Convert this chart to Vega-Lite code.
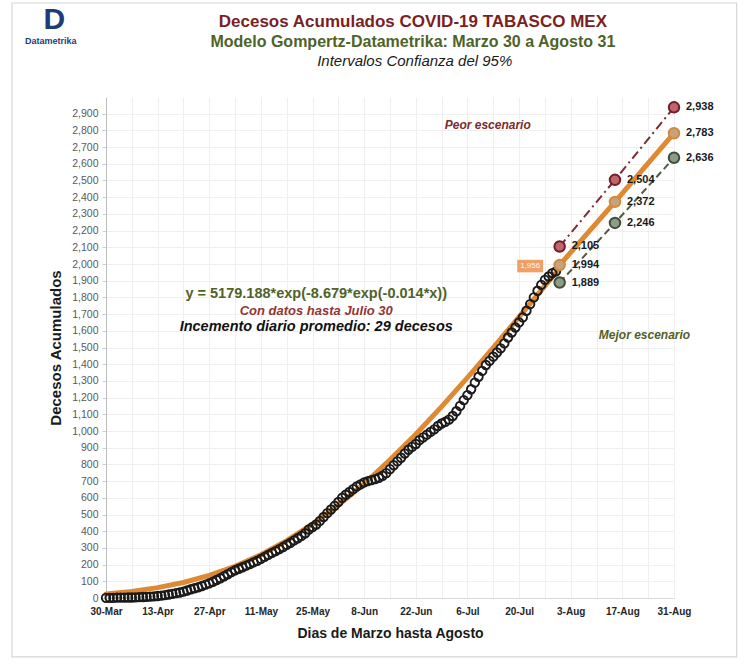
{
  "$schema": "https://vega.github.io/schema/vega-lite/v6.json",
  "width": 568,
  "height": 501,
  "autosize": {"type": "none"},
  "padding": {"left": 106, "top": 97, "right": 76, "bottom": 74},
  "background": "white",
  "config": {
    "view": {"stroke": null},
    "font": "Liberation Sans",
    "axisX": {
      "labelFont": "Liberation Sans", "labelFontSize": 10, "labelFontWeight": "bold", "labelColor": "#262626",
      "labelPadding": 8, "ticks": false, "labelOverlap": false, "labelFlush": false,
      "domainColor": "#D9D9D9", "grid": true, "gridColor": "#EFEFEF",
      "titleFont": "Liberation Sans", "titleFontSize": 14, "titleFontWeight": "bold", "titleColor": "#1a1a1a", "titlePadding": 10
    },
    "axisY": {
      "labelFont": "Liberation Sans", "labelFontSize": 10.5, "labelColor": "#595959", "labelPadding": 4,
      "tickColor": "#D0D0D0", "tickSize": 4, "domainColor": "#BFBFBF", "grid": true, "gridColor": "#F0F0F0",
      "titleFont": "Liberation Sans", "titleFontSize": 15, "titleFontWeight": "bold", "titleColor": "#1a1a1a", "titlePadding": 8
    }
  },
  "datasets": {
    "notas": [{"k": "nota"}],
    "obs": [
      {"d": "2020/03/30", "v": 1}, {"d": "2020/03/31", "v": 1}, {"d": "2020/04/01", "v": 1}, {"d": "2020/04/02", "v": 2},
      {"d": "2020/04/03", "v": 2}, {"d": "2020/04/04", "v": 2}, {"d": "2020/04/05", "v": 3}, {"d": "2020/04/06", "v": 3},
      {"d": "2020/04/07", "v": 4}, {"d": "2020/04/08", "v": 5}, {"d": "2020/04/09", "v": 6}, {"d": "2020/04/10", "v": 7},
      {"d": "2020/04/11", "v": 8}, {"d": "2020/04/12", "v": 10}, {"d": "2020/04/13", "v": 12}, {"d": "2020/04/14", "v": 14},
      {"d": "2020/04/15", "v": 17}, {"d": "2020/04/16", "v": 21}, {"d": "2020/04/17", "v": 25}, {"d": "2020/04/18", "v": 29},
      {"d": "2020/04/19", "v": 33}, {"d": "2020/04/20", "v": 38}, {"d": "2020/04/21", "v": 45}, {"d": "2020/04/22", "v": 52},
      {"d": "2020/04/23", "v": 58}, {"d": "2020/04/24", "v": 64}, {"d": "2020/04/25", "v": 72}, {"d": "2020/04/26", "v": 80},
      {"d": "2020/04/27", "v": 88}, {"d": "2020/04/28", "v": 97}, {"d": "2020/04/29", "v": 108}, {"d": "2020/04/30", "v": 118},
      {"d": "2020/05/01", "v": 130}, {"d": "2020/05/02", "v": 142}, {"d": "2020/05/03", "v": 155}, {"d": "2020/05/04", "v": 166},
      {"d": "2020/05/05", "v": 175}, {"d": "2020/05/06", "v": 184}, {"d": "2020/05/07", "v": 194}, {"d": "2020/05/08", "v": 203},
      {"d": "2020/05/09", "v": 213}, {"d": "2020/05/10", "v": 222}, {"d": "2020/05/11", "v": 234}, {"d": "2020/05/12", "v": 246},
      {"d": "2020/05/13", "v": 258}, {"d": "2020/05/14", "v": 270}, {"d": "2020/05/15", "v": 281}, {"d": "2020/05/16", "v": 293},
      {"d": "2020/05/17", "v": 305}, {"d": "2020/05/18", "v": 318}, {"d": "2020/05/19", "v": 331}, {"d": "2020/05/20", "v": 345},
      {"d": "2020/05/21", "v": 358}, {"d": "2020/05/22", "v": 372}, {"d": "2020/05/23", "v": 388}, {"d": "2020/05/24", "v": 410},
      {"d": "2020/05/25", "v": 425}, {"d": "2020/05/26", "v": 440}, {"d": "2020/05/27", "v": 462}, {"d": "2020/05/28", "v": 485},
      {"d": "2020/05/29", "v": 508}, {"d": "2020/05/30", "v": 530}, {"d": "2020/05/31", "v": 552}, {"d": "2020/06/01", "v": 575},
      {"d": "2020/06/02", "v": 600}, {"d": "2020/06/03", "v": 618}, {"d": "2020/06/04", "v": 635}, {"d": "2020/06/05", "v": 652},
      {"d": "2020/06/06", "v": 668}, {"d": "2020/06/07", "v": 680}, {"d": "2020/06/08", "v": 692}, {"d": "2020/06/09", "v": 700},
      {"d": "2020/06/10", "v": 706}, {"d": "2020/06/11", "v": 712}, {"d": "2020/06/12", "v": 720}, {"d": "2020/06/13", "v": 732},
      {"d": "2020/06/14", "v": 748}, {"d": "2020/06/15", "v": 772}, {"d": "2020/06/16", "v": 795}, {"d": "2020/06/17", "v": 818},
      {"d": "2020/06/18", "v": 840}, {"d": "2020/06/19", "v": 865}, {"d": "2020/06/20", "v": 888}, {"d": "2020/06/21", "v": 905},
      {"d": "2020/06/22", "v": 922}, {"d": "2020/06/23", "v": 945}, {"d": "2020/06/24", "v": 962}, {"d": "2020/06/25", "v": 978},
      {"d": "2020/06/26", "v": 995}, {"d": "2020/06/27", "v": 1010}, {"d": "2020/06/28", "v": 1030}, {"d": "2020/06/29", "v": 1045},
      {"d": "2020/06/30", "v": 1055}, {"d": "2020/07/01", "v": 1068}, {"d": "2020/07/02", "v": 1090}, {"d": "2020/07/03", "v": 1118},
      {"d": "2020/07/04", "v": 1150}, {"d": "2020/07/05", "v": 1185}, {"d": "2020/07/06", "v": 1215}, {"d": "2020/07/07", "v": 1250},
      {"d": "2020/07/08", "v": 1290}, {"d": "2020/07/09", "v": 1325}, {"d": "2020/07/10", "v": 1360}, {"d": "2020/07/11", "v": 1395},
      {"d": "2020/07/12", "v": 1420}, {"d": "2020/07/13", "v": 1445}, {"d": "2020/07/14", "v": 1470}, {"d": "2020/07/15", "v": 1495},
      {"d": "2020/07/16", "v": 1525}, {"d": "2020/07/17", "v": 1560}, {"d": "2020/07/18", "v": 1590}, {"d": "2020/07/19", "v": 1620},
      {"d": "2020/07/20", "v": 1650}, {"d": "2020/07/21", "v": 1680}, {"d": "2020/07/22", "v": 1720}, {"d": "2020/07/23", "v": 1760},
      {"d": "2020/07/24", "v": 1800}, {"d": "2020/07/25", "v": 1840}, {"d": "2020/07/26", "v": 1875}, {"d": "2020/07/27", "v": 1905},
      {"d": "2020/07/28", "v": 1925}, {"d": "2020/07/29", "v": 1945}, {"d": "2020/07/30", "v": 1956}
    ],
    "modelo": [
      {"d": "2020/03/30", "v": 24}, {"d": "2020/04/06", "v": 39}, {"d": "2020/04/13", "v": 62}, {"d": "2020/04/20", "v": 93},
      {"d": "2020/04/27", "v": 136}, {"d": "2020/05/04", "v": 190}, {"d": "2020/05/11", "v": 259}, {"d": "2020/05/18", "v": 343},
      {"d": "2020/05/25", "v": 442}, {"d": "2020/06/01", "v": 556}, {"d": "2020/06/08", "v": 684}, {"d": "2020/06/15", "v": 827},
      {"d": "2020/06/22", "v": 981}, {"d": "2020/06/29", "v": 1146}, {"d": "2020/07/06", "v": 1320}, {"d": "2020/07/13", "v": 1499},
      {"d": "2020/07/20", "v": 1683}, {"d": "2020/07/27", "v": 1869}, {"d": "2020/07/30", "v": 1949}, {"d": "2020/07/31", "v": 1994},
      {"d": "2020/08/15", "v": 2372}, {"d": "2020/08/31", "v": 2783}
    ],
    "proy": [
      {"d": "2020/07/31", "s": "peor", "v": 2105}, {"d": "2020/07/31", "s": "central", "v": 1994}, {"d": "2020/07/31", "s": "mejor", "v": 1889},
      {"d": "2020/08/15", "s": "peor", "v": 2504}, {"d": "2020/08/15", "s": "central", "v": 2372}, {"d": "2020/08/15", "s": "mejor", "v": 2246},
      {"d": "2020/08/31", "s": "peor", "v": 2938}, {"d": "2020/08/31", "s": "central", "v": 2783}, {"d": "2020/08/31", "s": "mejor", "v": 2636}
    ]
  },
  "layer": [
    {
      "encoding": {
        "x": {
          "field": "d", "type": "temporal",
          "scale": {"domain": [{"year": 2020, "month": 3, "date": 30}, {"year": 2020, "month": 8, "date": 31}]},
          "axis": {"title": "Dias de Marzo hasta Agosto", "values": [{"year": 2020, "month": 3, "date": 30}, {"year": 2020, "month": 4, "date": 6}, {"year": 2020, "month": 4, "date": 13}, {"year": 2020, "month": 4, "date": 20}, {"year": 2020, "month": 4, "date": 27}, {"year": 2020, "month": 5, "date": 4}, {"year": 2020, "month": 5, "date": 11}, {"year": 2020, "month": 5, "date": 18}, {"year": 2020, "month": 5, "date": 25}, {"year": 2020, "month": 6, "date": 1}, {"year": 2020, "month": 6, "date": 8}, {"year": 2020, "month": 6, "date": 15}, {"year": 2020, "month": 6, "date": 22}, {"year": 2020, "month": 6, "date": 29}, {"year": 2020, "month": 7, "date": 6}, {"year": 2020, "month": 7, "date": 13}, {"year": 2020, "month": 7, "date": 20}, {"year": 2020, "month": 7, "date": 27}, {"year": 2020, "month": 8, "date": 3}, {"year": 2020, "month": 8, "date": 10}, {"year": 2020, "month": 8, "date": 17}, {"year": 2020, "month": 8, "date": 24}, {"year": 2020, "month": 8, "date": 31}], "labelExpr": "round((datum.value - datetime(2020, 2, 30)) / 604800000) % 2 == 0 ? timeFormat(datum.value, '%-d-%b') : ''"}
        },
        "y": {
          "field": "v", "type": "quantitative",
          "scale": {"domain": [0, 3000], "nice": false},
          "axis": {"title": "Decesos Acumulados", "values": [0, 100, 200, 300, 400, 500, 600, 700, 800, 900, 1000, 1100, 1200, 1300, 1400, 1500, 1600, 1700, 1800, 1900, 2000, 2100, 2200, 2300, 2400, 2500, 2600, 2700, 2800, 2900], "format": ",d"}
        }
      },
      "layer": [
        {
          "data": {"name": "modelo"},
          "mark": {"type": "line", "color": "#DE8A33", "strokeWidth": 5, "strokeCap": "round", "strokeJoin": "round"}
        },
        {
          "data": {"name": "proy"},
          "transform": [{"filter": "datum.s == 'peor'"}],
          "mark": {"type": "line", "color": "#7B2C35", "strokeWidth": 2, "strokeDash": [9, 4, 2, 4]}
        },
        {
          "data": {"name": "proy"},
          "transform": [{"filter": "datum.s == 'mejor'"}],
          "mark": {"type": "line", "color": "#4F5B45", "strokeWidth": 2, "strokeDash": [7, 4]}
        },
        {
          "data": {"name": "obs"},
          "mark": {"type": "point", "shape": "circle", "filled": false, "stroke": "#1a1a1a", "strokeWidth": 1.9, "size": 72, "opacity": 1}
        },
        {
          "data": {"name": "proy"},
          "mark": {"type": "point", "shape": "circle", "filled": true, "size": 110, "strokeWidth": 2, "opacity": 1},
          "encoding": {
            "fill": {"field": "s", "type": "nominal", "legend": null,
              "scale": {"domain": ["peor", "central", "mejor"], "range": ["#C0646E", "#C9A27C", "#8D9C88"]}},
            "stroke": {"field": "s", "type": "nominal", "legend": null,
              "scale": {"domain": ["peor", "central", "mejor"], "range": ["#6E1F28", "#D08A40", "#3F4D3A"]}}
          }
        },
        {
          "data": {"name": "proy"},
          "mark": {"type": "text", "align": "left", "baseline": "middle", "dx": 12, "font": "Liberation Sans", "fontSize": 11, "fontWeight": "bold", "color": "#1a1a1a"},
          "encoding": {"text": {"field": "v", "type": "quantitative", "format": ",d"}}
        }
      ]
    },
    {
      "data": {"name": "notas"},
      "mark": {"type": "rect", "fill": "transparent", "stroke": "#D6D6D6", "strokeWidth": 1.2},
      "encoding": {
        "x": {"datum": {"year": 2020, "month": 3, "date": 4, "hours": 12}, "type": "temporal", "axis": {"title": "Dias de Marzo hasta Agosto", "values": [{"year": 2020, "month": 3, "date": 30}, {"year": 2020, "month": 4, "date": 6}, {"year": 2020, "month": 4, "date": 13}, {"year": 2020, "month": 4, "date": 20}, {"year": 2020, "month": 4, "date": 27}, {"year": 2020, "month": 5, "date": 4}, {"year": 2020, "month": 5, "date": 11}, {"year": 2020, "month": 5, "date": 18}, {"year": 2020, "month": 5, "date": 25}, {"year": 2020, "month": 6, "date": 1}, {"year": 2020, "month": 6, "date": 8}, {"year": 2020, "month": 6, "date": 15}, {"year": 2020, "month": 6, "date": 22}, {"year": 2020, "month": 6, "date": 29}, {"year": 2020, "month": 7, "date": 6}, {"year": 2020, "month": 7, "date": 13}, {"year": 2020, "month": 7, "date": 20}, {"year": 2020, "month": 7, "date": 27}, {"year": 2020, "month": 8, "date": 3}, {"year": 2020, "month": 8, "date": 10}, {"year": 2020, "month": 8, "date": 17}, {"year": 2020, "month": 8, "date": 24}, {"year": 2020, "month": 8, "date": 31}], "labelExpr": "round((datum.value - datetime(2020, 2, 30)) / 604800000) % 2 == 0 ? timeFormat(datum.value, '%-d-%b') : ''"}},
        "x2": {"datum": {"year": 2020, "month": 9, "date": 17}},
        "y": {"datum": -353, "type": "quantitative", "axis": {"title": "Decesos Acumulados", "values": [0, 100, 200, 300, 400, 500, 600, 700, 800, 900, 1000, 1100, 1200, 1300, 1400, 1500, 1600, 1700, 1800, 1900, 2000, 2100, 2200, 2300, 2400, 2500, 2600, 2700, 2800, 2900], "format": ",d"}},
        "y2": {"datum": 3563}
      }
    },
    {
      "data": {"name": "notas"},
      "mark": {"type": "rect", "color": "#EFA068"},
      "encoding": {
        "x": {"datum": {"year": 2020, "month": 7, "date": 19, "hours": 12}, "type": "temporal", "axis": {"title": "Dias de Marzo hasta Agosto", "values": [{"year": 2020, "month": 3, "date": 30}, {"year": 2020, "month": 4, "date": 6}, {"year": 2020, "month": 4, "date": 13}, {"year": 2020, "month": 4, "date": 20}, {"year": 2020, "month": 4, "date": 27}, {"year": 2020, "month": 5, "date": 4}, {"year": 2020, "month": 5, "date": 11}, {"year": 2020, "month": 5, "date": 18}, {"year": 2020, "month": 5, "date": 25}, {"year": 2020, "month": 6, "date": 1}, {"year": 2020, "month": 6, "date": 8}, {"year": 2020, "month": 6, "date": 15}, {"year": 2020, "month": 6, "date": 22}, {"year": 2020, "month": 6, "date": 29}, {"year": 2020, "month": 7, "date": 6}, {"year": 2020, "month": 7, "date": 13}, {"year": 2020, "month": 7, "date": 20}, {"year": 2020, "month": 7, "date": 27}, {"year": 2020, "month": 8, "date": 3}, {"year": 2020, "month": 8, "date": 10}, {"year": 2020, "month": 8, "date": 17}, {"year": 2020, "month": 8, "date": 24}, {"year": 2020, "month": 8, "date": 31}], "labelExpr": "round((datum.value - datetime(2020, 2, 30)) / 604800000) % 2 == 0 ? timeFormat(datum.value, '%-d-%b') : ''"}},
        "x2": {"datum": {"year": 2020, "month": 7, "date": 26, "hours": 12}},
        "y": {"datum": 1950, "type": "quantitative", "axis": {"title": "Decesos Acumulados", "values": [0, 100, 200, 300, 400, 500, 600, 700, 800, 900, 1000, 1100, 1200, 1300, 1400, 1500, 1600, 1700, 1800, 1900, 2000, 2100, 2200, 2300, 2400, 2500, 2600, 2700, 2800, 2900], "format": ",d"}},
        "y2": {"datum": 2025}
      }
    },
    {
      "data": {"name": "notas"},
      "mark": {"type": "text", "align": "center", "baseline": "middle", "font": "Liberation Sans", "fontSize": 8, "color": "#FFF4E8"},
      "encoding": {
        "x": {"datum": {"year": 2020, "month": 7, "date": 23}, "type": "temporal", "axis": {"title": "Dias de Marzo hasta Agosto", "values": [{"year": 2020, "month": 3, "date": 30}, {"year": 2020, "month": 4, "date": 6}, {"year": 2020, "month": 4, "date": 13}, {"year": 2020, "month": 4, "date": 20}, {"year": 2020, "month": 4, "date": 27}, {"year": 2020, "month": 5, "date": 4}, {"year": 2020, "month": 5, "date": 11}, {"year": 2020, "month": 5, "date": 18}, {"year": 2020, "month": 5, "date": 25}, {"year": 2020, "month": 6, "date": 1}, {"year": 2020, "month": 6, "date": 8}, {"year": 2020, "month": 6, "date": 15}, {"year": 2020, "month": 6, "date": 22}, {"year": 2020, "month": 6, "date": 29}, {"year": 2020, "month": 7, "date": 6}, {"year": 2020, "month": 7, "date": 13}, {"year": 2020, "month": 7, "date": 20}, {"year": 2020, "month": 7, "date": 27}, {"year": 2020, "month": 8, "date": 3}, {"year": 2020, "month": 8, "date": 10}, {"year": 2020, "month": 8, "date": 17}, {"year": 2020, "month": 8, "date": 24}, {"year": 2020, "month": 8, "date": 31}], "labelExpr": "round((datum.value - datetime(2020, 2, 30)) / 604800000) % 2 == 0 ? timeFormat(datum.value, '%-d-%b') : ''"}},
        "y": {"datum": 1987, "type": "quantitative", "axis": {"title": "Decesos Acumulados", "values": [0, 100, 200, 300, 400, 500, 600, 700, 800, 900, 1000, 1100, 1200, 1300, 1400, 1500, 1600, 1700, 1800, 1900, 2000, 2100, 2200, 2300, 2400, 2500, 2600, 2700, 2800, 2900], "format": ",d"}},
        "text": {"value": "1,956"}
      }
    },
    {
      "data": {"name": "notas"},
      "mark": {"type": "text", "align": "center", "baseline": "middle", "font": "Liberation Sans", "fontSize": 12, "fontWeight": "bold", "fontStyle": "italic", "color": "#7B2C2C"},
      "encoding": {
        "x": {"datum": {"year": 2020, "month": 7, "date": 11, "hours": 12}, "type": "temporal", "axis": {"title": "Dias de Marzo hasta Agosto", "values": [{"year": 2020, "month": 3, "date": 30}, {"year": 2020, "month": 4, "date": 6}, {"year": 2020, "month": 4, "date": 13}, {"year": 2020, "month": 4, "date": 20}, {"year": 2020, "month": 4, "date": 27}, {"year": 2020, "month": 5, "date": 4}, {"year": 2020, "month": 5, "date": 11}, {"year": 2020, "month": 5, "date": 18}, {"year": 2020, "month": 5, "date": 25}, {"year": 2020, "month": 6, "date": 1}, {"year": 2020, "month": 6, "date": 8}, {"year": 2020, "month": 6, "date": 15}, {"year": 2020, "month": 6, "date": 22}, {"year": 2020, "month": 6, "date": 29}, {"year": 2020, "month": 7, "date": 6}, {"year": 2020, "month": 7, "date": 13}, {"year": 2020, "month": 7, "date": 20}, {"year": 2020, "month": 7, "date": 27}, {"year": 2020, "month": 8, "date": 3}, {"year": 2020, "month": 8, "date": 10}, {"year": 2020, "month": 8, "date": 17}, {"year": 2020, "month": 8, "date": 24}, {"year": 2020, "month": 8, "date": 31}], "labelExpr": "round((datum.value - datetime(2020, 2, 30)) / 604800000) % 2 == 0 ? timeFormat(datum.value, '%-d-%b') : ''"}},
        "y": {"datum": 2834, "type": "quantitative", "axis": {"title": "Decesos Acumulados", "values": [0, 100, 200, 300, 400, 500, 600, 700, 800, 900, 1000, 1100, 1200, 1300, 1400, 1500, 1600, 1700, 1800, 1900, 2000, 2100, 2200, 2300, 2400, 2500, 2600, 2700, 2800, 2900], "format": ",d"}},
        "text": {"value": "Peor escenario"}
      }
    },
    {
      "data": {"name": "notas"},
      "mark": {"type": "text", "align": "center", "baseline": "middle", "font": "Liberation Sans", "fontSize": 12, "fontWeight": "bold", "fontStyle": "italic", "color": "#4F6228"},
      "encoding": {
        "x": {"datum": {"year": 2020, "month": 8, "date": 23}, "type": "temporal", "axis": {"title": "Dias de Marzo hasta Agosto", "values": [{"year": 2020, "month": 3, "date": 30}, {"year": 2020, "month": 4, "date": 6}, {"year": 2020, "month": 4, "date": 13}, {"year": 2020, "month": 4, "date": 20}, {"year": 2020, "month": 4, "date": 27}, {"year": 2020, "month": 5, "date": 4}, {"year": 2020, "month": 5, "date": 11}, {"year": 2020, "month": 5, "date": 18}, {"year": 2020, "month": 5, "date": 25}, {"year": 2020, "month": 6, "date": 1}, {"year": 2020, "month": 6, "date": 8}, {"year": 2020, "month": 6, "date": 15}, {"year": 2020, "month": 6, "date": 22}, {"year": 2020, "month": 6, "date": 29}, {"year": 2020, "month": 7, "date": 6}, {"year": 2020, "month": 7, "date": 13}, {"year": 2020, "month": 7, "date": 20}, {"year": 2020, "month": 7, "date": 27}, {"year": 2020, "month": 8, "date": 3}, {"year": 2020, "month": 8, "date": 10}, {"year": 2020, "month": 8, "date": 17}, {"year": 2020, "month": 8, "date": 24}, {"year": 2020, "month": 8, "date": 31}], "labelExpr": "round((datum.value - datetime(2020, 2, 30)) / 604800000) % 2 == 0 ? timeFormat(datum.value, '%-d-%b') : ''"}},
        "y": {"datum": 1576, "type": "quantitative", "axis": {"title": "Decesos Acumulados", "values": [0, 100, 200, 300, 400, 500, 600, 700, 800, 900, 1000, 1100, 1200, 1300, 1400, 1500, 1600, 1700, 1800, 1900, 2000, 2100, 2200, 2300, 2400, 2500, 2600, 2700, 2800, 2900], "format": ",d"}},
        "text": {"value": "Mejor escenario"}
      }
    },
    {
      "data": {"name": "notas"},
      "mark": {"type": "text", "align": "center", "baseline": "middle", "font": "Liberation Sans", "fontSize": 14.5, "fontWeight": "bold", "color": "#4F6228"},
      "encoding": {
        "x": {"datum": {"year": 2020, "month": 5, "date": 26}, "type": "temporal", "axis": {"title": "Dias de Marzo hasta Agosto", "values": [{"year": 2020, "month": 3, "date": 30}, {"year": 2020, "month": 4, "date": 6}, {"year": 2020, "month": 4, "date": 13}, {"year": 2020, "month": 4, "date": 20}, {"year": 2020, "month": 4, "date": 27}, {"year": 2020, "month": 5, "date": 4}, {"year": 2020, "month": 5, "date": 11}, {"year": 2020, "month": 5, "date": 18}, {"year": 2020, "month": 5, "date": 25}, {"year": 2020, "month": 6, "date": 1}, {"year": 2020, "month": 6, "date": 8}, {"year": 2020, "month": 6, "date": 15}, {"year": 2020, "month": 6, "date": 22}, {"year": 2020, "month": 6, "date": 29}, {"year": 2020, "month": 7, "date": 6}, {"year": 2020, "month": 7, "date": 13}, {"year": 2020, "month": 7, "date": 20}, {"year": 2020, "month": 7, "date": 27}, {"year": 2020, "month": 8, "date": 3}, {"year": 2020, "month": 8, "date": 10}, {"year": 2020, "month": 8, "date": 17}, {"year": 2020, "month": 8, "date": 24}, {"year": 2020, "month": 8, "date": 31}], "labelExpr": "round((datum.value - datetime(2020, 2, 30)) / 604800000) % 2 == 0 ? timeFormat(datum.value, '%-d-%b') : ''"}},
        "y": {"datum": 1818, "type": "quantitative", "axis": {"title": "Decesos Acumulados", "values": [0, 100, 200, 300, 400, 500, 600, 700, 800, 900, 1000, 1100, 1200, 1300, 1400, 1500, 1600, 1700, 1800, 1900, 2000, 2100, 2200, 2300, 2400, 2500, 2600, 2700, 2800, 2900], "format": ",d"}},
        "text": {"value": "y = 5179.188*exp(-8.679*exp(-0.014*x))"}
      }
    },
    {
      "data": {"name": "notas"},
      "mark": {"type": "text", "align": "center", "baseline": "middle", "font": "Liberation Sans", "fontSize": 13, "fontWeight": "bold", "fontStyle": "italic", "color": "#943634"},
      "encoding": {
        "x": {"datum": {"year": 2020, "month": 5, "date": 26}, "type": "temporal", "axis": {"title": "Dias de Marzo hasta Agosto", "values": [{"year": 2020, "month": 3, "date": 30}, {"year": 2020, "month": 4, "date": 6}, {"year": 2020, "month": 4, "date": 13}, {"year": 2020, "month": 4, "date": 20}, {"year": 2020, "month": 4, "date": 27}, {"year": 2020, "month": 5, "date": 4}, {"year": 2020, "month": 5, "date": 11}, {"year": 2020, "month": 5, "date": 18}, {"year": 2020, "month": 5, "date": 25}, {"year": 2020, "month": 6, "date": 1}, {"year": 2020, "month": 6, "date": 8}, {"year": 2020, "month": 6, "date": 15}, {"year": 2020, "month": 6, "date": 22}, {"year": 2020, "month": 6, "date": 29}, {"year": 2020, "month": 7, "date": 6}, {"year": 2020, "month": 7, "date": 13}, {"year": 2020, "month": 7, "date": 20}, {"year": 2020, "month": 7, "date": 27}, {"year": 2020, "month": 8, "date": 3}, {"year": 2020, "month": 8, "date": 10}, {"year": 2020, "month": 8, "date": 17}, {"year": 2020, "month": 8, "date": 24}, {"year": 2020, "month": 8, "date": 31}], "labelExpr": "round((datum.value - datetime(2020, 2, 30)) / 604800000) % 2 == 0 ? timeFormat(datum.value, '%-d-%b') : ''"}},
        "y": {"datum": 1720, "type": "quantitative", "axis": {"title": "Decesos Acumulados", "values": [0, 100, 200, 300, 400, 500, 600, 700, 800, 900, 1000, 1100, 1200, 1300, 1400, 1500, 1600, 1700, 1800, 1900, 2000, 2100, 2200, 2300, 2400, 2500, 2600, 2700, 2800, 2900], "format": ",d"}},
        "text": {"value": "Con datos hasta Julio 30"}
      }
    },
    {
      "data": {"name": "notas"},
      "mark": {"type": "text", "align": "center", "baseline": "middle", "font": "Liberation Sans", "fontSize": 14.5, "fontWeight": "bold", "fontStyle": "italic", "color": "#111111"},
      "encoding": {
        "x": {"datum": {"year": 2020, "month": 5, "date": 26}, "type": "temporal", "axis": {"title": "Dias de Marzo hasta Agosto", "values": [{"year": 2020, "month": 3, "date": 30}, {"year": 2020, "month": 4, "date": 6}, {"year": 2020, "month": 4, "date": 13}, {"year": 2020, "month": 4, "date": 20}, {"year": 2020, "month": 4, "date": 27}, {"year": 2020, "month": 5, "date": 4}, {"year": 2020, "month": 5, "date": 11}, {"year": 2020, "month": 5, "date": 18}, {"year": 2020, "month": 5, "date": 25}, {"year": 2020, "month": 6, "date": 1}, {"year": 2020, "month": 6, "date": 8}, {"year": 2020, "month": 6, "date": 15}, {"year": 2020, "month": 6, "date": 22}, {"year": 2020, "month": 6, "date": 29}, {"year": 2020, "month": 7, "date": 6}, {"year": 2020, "month": 7, "date": 13}, {"year": 2020, "month": 7, "date": 20}, {"year": 2020, "month": 7, "date": 27}, {"year": 2020, "month": 8, "date": 3}, {"year": 2020, "month": 8, "date": 10}, {"year": 2020, "month": 8, "date": 17}, {"year": 2020, "month": 8, "date": 24}, {"year": 2020, "month": 8, "date": 31}], "labelExpr": "round((datum.value - datetime(2020, 2, 30)) / 604800000) % 2 == 0 ? timeFormat(datum.value, '%-d-%b') : ''"}},
        "y": {"datum": 1625, "type": "quantitative", "axis": {"title": "Decesos Acumulados", "values": [0, 100, 200, 300, 400, 500, 600, 700, 800, 900, 1000, 1100, 1200, 1300, 1400, 1500, 1600, 1700, 1800, 1900, 2000, 2100, 2200, 2300, 2400, 2500, 2600, 2700, 2800, 2900], "format": ",d"}},
        "text": {"value": "Incemento diario promedio: 29 decesos"}
      }
    },
    {
      "data": {"name": "notas"},
      "mark": {"type": "text", "align": "center", "baseline": "middle", "font": "Liberation Sans", "fontSize": 17, "fontWeight": "bold", "color": "#7B1F22"},
      "encoding": {
        "x": {"datum": {"year": 2020, "month": 6, "date": 21, "hours": 5}, "type": "temporal", "axis": {"title": "Dias de Marzo hasta Agosto", "values": [{"year": 2020, "month": 3, "date": 30}, {"year": 2020, "month": 4, "date": 6}, {"year": 2020, "month": 4, "date": 13}, {"year": 2020, "month": 4, "date": 20}, {"year": 2020, "month": 4, "date": 27}, {"year": 2020, "month": 5, "date": 4}, {"year": 2020, "month": 5, "date": 11}, {"year": 2020, "month": 5, "date": 18}, {"year": 2020, "month": 5, "date": 25}, {"year": 2020, "month": 6, "date": 1}, {"year": 2020, "month": 6, "date": 8}, {"year": 2020, "month": 6, "date": 15}, {"year": 2020, "month": 6, "date": 22}, {"year": 2020, "month": 6, "date": 29}, {"year": 2020, "month": 7, "date": 6}, {"year": 2020, "month": 7, "date": 13}, {"year": 2020, "month": 7, "date": 20}, {"year": 2020, "month": 7, "date": 27}, {"year": 2020, "month": 8, "date": 3}, {"year": 2020, "month": 8, "date": 10}, {"year": 2020, "month": 8, "date": 17}, {"year": 2020, "month": 8, "date": 24}, {"year": 2020, "month": 8, "date": 31}], "labelExpr": "round((datum.value - datetime(2020, 2, 30)) / 604800000) % 2 == 0 ? timeFormat(datum.value, '%-d-%b') : ''"}},
        "y": {"datum": 3449, "type": "quantitative", "axis": {"title": "Decesos Acumulados", "values": [0, 100, 200, 300, 400, 500, 600, 700, 800, 900, 1000, 1100, 1200, 1300, 1400, 1500, 1600, 1700, 1800, 1900, 2000, 2100, 2200, 2300, 2400, 2500, 2600, 2700, 2800, 2900], "format": ",d"}},
        "text": {"value": "Decesos Acumulados COVID-19 TABASCO MEX"}
      }
    },
    {
      "data": {"name": "notas"},
      "mark": {"type": "text", "align": "center", "baseline": "middle", "font": "Liberation Sans", "fontSize": 16, "fontWeight": "bold", "color": "#4F6228"},
      "encoding": {
        "x": {"datum": {"year": 2020, "month": 6, "date": 21, "hours": 5}, "type": "temporal", "axis": {"title": "Dias de Marzo hasta Agosto", "values": [{"year": 2020, "month": 3, "date": 30}, {"year": 2020, "month": 4, "date": 6}, {"year": 2020, "month": 4, "date": 13}, {"year": 2020, "month": 4, "date": 20}, {"year": 2020, "month": 4, "date": 27}, {"year": 2020, "month": 5, "date": 4}, {"year": 2020, "month": 5, "date": 11}, {"year": 2020, "month": 5, "date": 18}, {"year": 2020, "month": 5, "date": 25}, {"year": 2020, "month": 6, "date": 1}, {"year": 2020, "month": 6, "date": 8}, {"year": 2020, "month": 6, "date": 15}, {"year": 2020, "month": 6, "date": 22}, {"year": 2020, "month": 6, "date": 29}, {"year": 2020, "month": 7, "date": 6}, {"year": 2020, "month": 7, "date": 13}, {"year": 2020, "month": 7, "date": 20}, {"year": 2020, "month": 7, "date": 27}, {"year": 2020, "month": 8, "date": 3}, {"year": 2020, "month": 8, "date": 10}, {"year": 2020, "month": 8, "date": 17}, {"year": 2020, "month": 8, "date": 24}, {"year": 2020, "month": 8, "date": 31}], "labelExpr": "round((datum.value - datetime(2020, 2, 30)) / 604800000) % 2 == 0 ? timeFormat(datum.value, '%-d-%b') : ''"}},
        "y": {"datum": 3329, "type": "quantitative", "axis": {"title": "Decesos Acumulados", "values": [0, 100, 200, 300, 400, 500, 600, 700, 800, 900, 1000, 1100, 1200, 1300, 1400, 1500, 1600, 1700, 1800, 1900, 2000, 2100, 2200, 2300, 2400, 2500, 2600, 2700, 2800, 2900], "format": ",d"}},
        "text": {"value": "Modelo Gompertz-Datametrika: Marzo 30 a Agosto 31"}
      }
    },
    {
      "data": {"name": "notas"},
      "mark": {"type": "text", "align": "center", "baseline": "middle", "font": "Liberation Sans", "fontSize": 15, "fontStyle": "italic", "color": "#1a1a1a"},
      "encoding": {
        "x": {"datum": {"year": 2020, "month": 6, "date": 21, "hours": 17}, "type": "temporal", "axis": {"title": "Dias de Marzo hasta Agosto", "values": [{"year": 2020, "month": 3, "date": 30}, {"year": 2020, "month": 4, "date": 6}, {"year": 2020, "month": 4, "date": 13}, {"year": 2020, "month": 4, "date": 20}, {"year": 2020, "month": 4, "date": 27}, {"year": 2020, "month": 5, "date": 4}, {"year": 2020, "month": 5, "date": 11}, {"year": 2020, "month": 5, "date": 18}, {"year": 2020, "month": 5, "date": 25}, {"year": 2020, "month": 6, "date": 1}, {"year": 2020, "month": 6, "date": 8}, {"year": 2020, "month": 6, "date": 15}, {"year": 2020, "month": 6, "date": 22}, {"year": 2020, "month": 6, "date": 29}, {"year": 2020, "month": 7, "date": 6}, {"year": 2020, "month": 7, "date": 13}, {"year": 2020, "month": 7, "date": 20}, {"year": 2020, "month": 7, "date": 27}, {"year": 2020, "month": 8, "date": 3}, {"year": 2020, "month": 8, "date": 10}, {"year": 2020, "month": 8, "date": 17}, {"year": 2020, "month": 8, "date": 24}, {"year": 2020, "month": 8, "date": 31}], "labelExpr": "round((datum.value - datetime(2020, 2, 30)) / 604800000) % 2 == 0 ? timeFormat(datum.value, '%-d-%b') : ''"}},
        "y": {"datum": 3216, "type": "quantitative", "axis": {"title": "Decesos Acumulados", "values": [0, 100, 200, 300, 400, 500, 600, 700, 800, 900, 1000, 1100, 1200, 1300, 1400, 1500, 1600, 1700, 1800, 1900, 2000, 2100, 2200, 2300, 2400, 2500, 2600, 2700, 2800, 2900], "format": ",d"}},
        "text": {"value": "Intervalos Confianza del 95%"}
      }
    },
    {
      "data": {"name": "notas"},
      "mark": {"type": "text", "align": "center", "baseline": "middle", "font": "Liberation Sans", "fontSize": 30, "fontWeight": "bold", "color": "#1F3C7A"},
      "encoding": {
        "x": {"datum": {"year": 2020, "month": 3, "date": 16}, "type": "temporal", "axis": {"title": "Dias de Marzo hasta Agosto", "values": [{"year": 2020, "month": 3, "date": 30}, {"year": 2020, "month": 4, "date": 6}, {"year": 2020, "month": 4, "date": 13}, {"year": 2020, "month": 4, "date": 20}, {"year": 2020, "month": 4, "date": 27}, {"year": 2020, "month": 5, "date": 4}, {"year": 2020, "month": 5, "date": 11}, {"year": 2020, "month": 5, "date": 18}, {"year": 2020, "month": 5, "date": 25}, {"year": 2020, "month": 6, "date": 1}, {"year": 2020, "month": 6, "date": 8}, {"year": 2020, "month": 6, "date": 15}, {"year": 2020, "month": 6, "date": 22}, {"year": 2020, "month": 6, "date": 29}, {"year": 2020, "month": 7, "date": 6}, {"year": 2020, "month": 7, "date": 13}, {"year": 2020, "month": 7, "date": 20}, {"year": 2020, "month": 7, "date": 27}, {"year": 2020, "month": 8, "date": 3}, {"year": 2020, "month": 8, "date": 10}, {"year": 2020, "month": 8, "date": 17}, {"year": 2020, "month": 8, "date": 24}, {"year": 2020, "month": 8, "date": 31}], "labelExpr": "round((datum.value - datetime(2020, 2, 30)) / 604800000) % 2 == 0 ? timeFormat(datum.value, '%-d-%b') : ''"}},
        "y": {"datum": 3461, "type": "quantitative", "axis": {"title": "Decesos Acumulados", "values": [0, 100, 200, 300, 400, 500, 600, 700, 800, 900, 1000, 1100, 1200, 1300, 1400, 1500, 1600, 1700, 1800, 1900, 2000, 2100, 2200, 2300, 2400, 2500, 2600, 2700, 2800, 2900], "format": ",d"}},
        "text": {"value": "D"}
      }
    },
    {
      "data": {"name": "notas"},
      "mark": {"type": "text", "align": "center", "baseline": "middle", "font": "Liberation Sans", "fontSize": 9, "fontWeight": "bold", "color": "#1F3C7A"},
      "encoding": {
        "x": {"datum": {"year": 2020, "month": 3, "date": 15}, "type": "temporal", "axis": {"title": "Dias de Marzo hasta Agosto", "values": [{"year": 2020, "month": 3, "date": 30}, {"year": 2020, "month": 4, "date": 6}, {"year": 2020, "month": 4, "date": 13}, {"year": 2020, "month": 4, "date": 20}, {"year": 2020, "month": 4, "date": 27}, {"year": 2020, "month": 5, "date": 4}, {"year": 2020, "month": 5, "date": 11}, {"year": 2020, "month": 5, "date": 18}, {"year": 2020, "month": 5, "date": 25}, {"year": 2020, "month": 6, "date": 1}, {"year": 2020, "month": 6, "date": 8}, {"year": 2020, "month": 6, "date": 15}, {"year": 2020, "month": 6, "date": 22}, {"year": 2020, "month": 6, "date": 29}, {"year": 2020, "month": 7, "date": 6}, {"year": 2020, "month": 7, "date": 13}, {"year": 2020, "month": 7, "date": 20}, {"year": 2020, "month": 7, "date": 27}, {"year": 2020, "month": 8, "date": 3}, {"year": 2020, "month": 8, "date": 10}, {"year": 2020, "month": 8, "date": 17}, {"year": 2020, "month": 8, "date": 24}, {"year": 2020, "month": 8, "date": 31}], "labelExpr": "round((datum.value - datetime(2020, 2, 30)) / 604800000) % 2 == 0 ? timeFormat(datum.value, '%-d-%b') : ''"}},
        "y": {"datum": 3336, "type": "quantitative", "axis": {"title": "Decesos Acumulados", "values": [0, 100, 200, 300, 400, 500, 600, 700, 800, 900, 1000, 1100, 1200, 1300, 1400, 1500, 1600, 1700, 1800, 1900, 2000, 2100, 2200, 2300, 2400, 2500, 2600, 2700, 2800, 2900], "format": ",d"}},
        "text": {"value": "Datametrika"}
      }
    }
  ]
}
